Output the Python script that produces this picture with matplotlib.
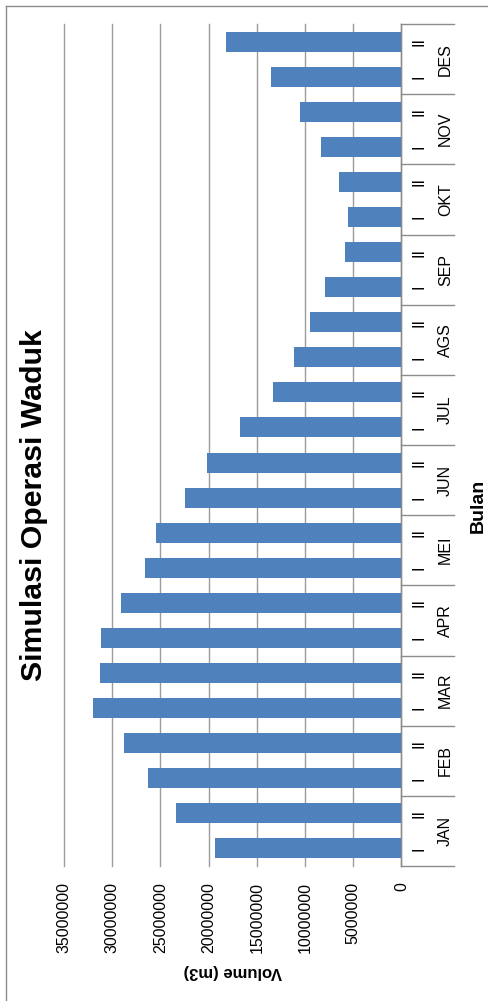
import matplotlib
matplotlib.use("Agg")
import matplotlib.pyplot as plt
from matplotlib.lines import Line2D
import numpy as np

plt.rcParams['font.family'] = ['Liberation Sans', 'DejaVu Sans']

# Reservoir storage per half-month period (m3)
months = ["JAN", "FEB", "MAR", "APR", "MEI", "JUN",
          "JUL", "AGS", "SEP", "OKT", "NOV", "DES"]
halves = ["I", "II"]
volume = [19350000, 23390000,   # JAN
          26270000, 28790000,   # FEB
          32030000, 31240000,   # MAR
          31170000, 29100000,   # APR
          26580000, 25470000,   # MEI
          22460000, 20180000,   # JUN
          16780000, 13330000,   # JUL
          11120000, 9460000,    # AGS
          7900000, 5860000,     # SEP
          5580000, 6480000,     # OKT
          8380000, 10500000,    # NOV
          13570000, 18170000]   # DES
value_ticks = [0, 5000000, 10000000, 15000000, 20000000,
               25000000, 30000000, 35000000]

W, H = 489, 1001
fig = plt.figure(figsize=(W / 100, H / 100), dpi=100)
fig.patch.set_facecolor("white")

# plot area in pixels: x 64..401.5, y 24..866
x0, x1, y0, y1 = 64, 401.5, 24, 866
ax = fig.add_axes([x0 / W, 1 - y1 / H, (x1 - x0) / W, (y1 - y0) / H])

pos = np.arange(len(volume))
ax.barh(pos, volume, height=0.57, color="#4F81BD", zorder=3)

ax.set_xlim(35000000, 0)
ax.set_ylim(-0.5, len(volume) - 0.5)

ax.set_xticks(value_ticks)
ax.set_xticklabels([str(v) for v in value_ticks], rotation=90, fontsize=11.5)
ax.tick_params(axis="x", length=0, pad=11.5, colors="black")
ax.set_yticks([])

ax.grid(axis="x", color="#9c9c9c", linewidth=1.0, zorder=0)
ax.set_axisbelow(True)
for gl in ax.get_xgridlines():
    gl.set_clip_on(False)

for side in ["left", "top", "bottom"]:
    ax.spines[side].set_visible(False)
ax.spines["right"].set_color("#8c8c8c")
ax.spines["right"].set_linewidth(1.0)

# two-level category axis on the right
ax_w = x1 - x0
def ax_x(px):
    return (px - x0) / ax_w

tr = matplotlib.transforms.blended_transform_factory(ax.transAxes, ax.transData)
for b in np.arange(-0.5, len(volume), 2):
    ax.add_line(Line2D([1.0, ax_x(454)], [b, b], transform=tr,
                       color="#8c8c8c", linewidth=1.0, clip_on=False))

for i, p in enumerate(pos):
    ax.text(ax_x(423.5), p, halves[i % 2], transform=tr, rotation=90,
            rotation_mode="anchor", ha="center", va="baseline", fontsize=11.5)
for m, name in enumerate(months):
    ax.text(ax_x(450), 2 * m + 0.5, name, transform=tr, rotation=90,
            rotation_mode="anchor", ha="center", va="baseline", fontsize=11.5)

fig.text(483 / W, 1 - 506 / H, "Bulan", rotation=90, rotation_mode="anchor",
         ha="center", va="baseline", fontsize=14, fontweight="bold")

fig.text(232.5 / W, 1 - 971.5 / H, "Volume (m3)", rotation=180,
         ha="center", va="center", fontsize=12, fontweight="bold")

fig.text(41.7 / W, 1 - 505 / H, "Simulasi Operasi Waduk", rotation=90,
         rotation_mode="anchor", ha="center", va="baseline",
         fontsize=21.8, fontweight="bold")

# chart frame
bx, by = 5.5 / W, 1 - 5.5 / H
fig.add_artist(Line2D([bx, bx], [0, by], transform=fig.transFigure,
                      color="#8c8c8c", linewidth=1.0))
fig.add_artist(Line2D([bx, 1], [by, by], transform=fig.transFigure,
                      color="#8c8c8c", linewidth=1.0))

fig.savefig("out.png", dpi=100)
